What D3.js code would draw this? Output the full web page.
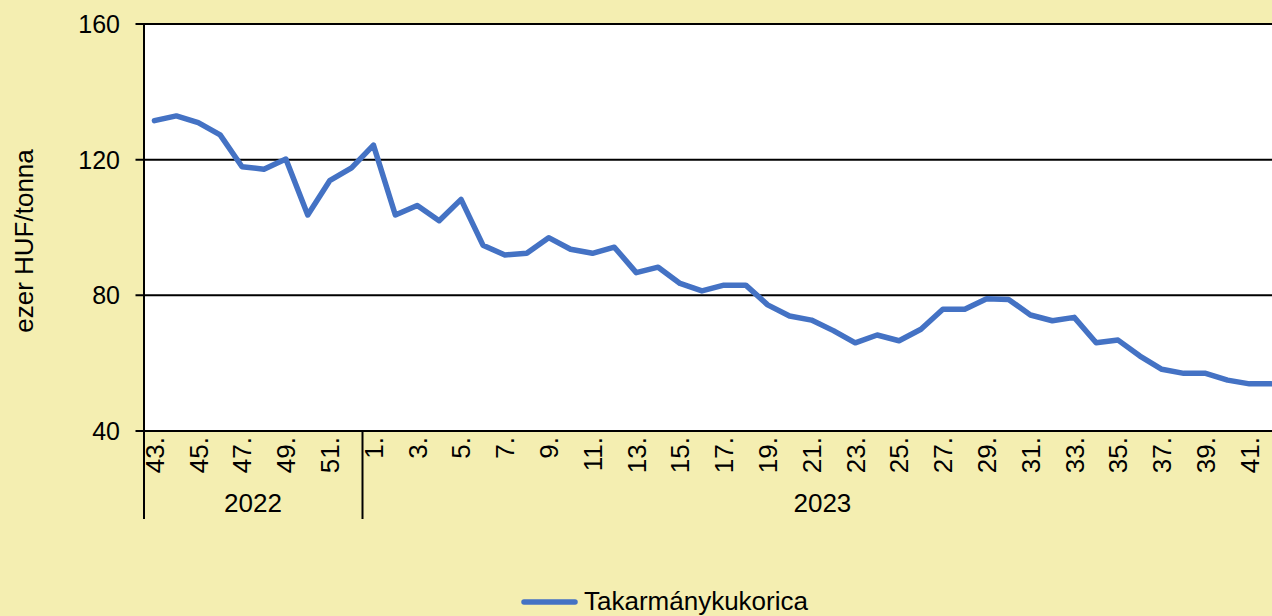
<!DOCTYPE html>
<html><head><meta charset="utf-8">
<script src="https://cdn.jsdelivr.net/npm/d3@7"></script>
<style>html,body{margin:0;padding:0;background:#F4EEB1;}svg{display:block;font-family:"Liberation Sans",Arial,sans-serif;}</style>
</head><body>
<svg id="c" width="1272" height="616"></svg>
<script>
const weeks2022 = ["43.","44.","45.","46.","47.","48.","49.","50.","51.","52."];
const weeks2023 = ["1.","2.","3.","4.","5.","6.","7.","8.","9.","10.","11.","12.","13.","14.","15.","16.","17.","18.","19.","20.","21.","22.","23.","24.","25.","26.","27.","28.","29.","30.","31.","32.","33.","34.","35.","36.","37.","38.","39.","40.","41.","42."];
const years = ["2022","2023"];
const values = [131.5,132.9,130.9,127.3,117.9,117.2,120.2,103.7,113.8,117.6,
  124.3,103.7,106.5,102.0,108.3,94.8,91.9,92.4,97.0,93.6,92.4,94.2,86.7,88.3,83.5,81.3,83.0,83.0,77.2,73.9,72.7,69.6,66.0,68.3,66.6,70.0,75.9,75.9,79.0,78.8,74.2,72.5,73.5,66.0,66.8,62.1,58.2,57.0,57.0,55.0,53.9,53.9];
const yTicks = [40,80,120,160];
const seriesName = "Takarmánykukorica";
const yTitle = "ezer HUF/tonna";

(function(){
const cats = weeks2022.map(w=>({key:"2022-"+w,label:w,year:"2022"}))
  .concat(weeks2023.map(w=>({key:"2023-"+w,label:w,year:"2023"})));

const svg = d3.select("#c");
const W = 1272, H = 616;
const pL = 143.5, pT = 24, pB = 431;
const band = 21.9;
const pR = pL + cats.length*band;

svg.append("rect").attr("width",W).attr("height",H).attr("fill","#F4EEB1");

const x = d3.scaleBand().domain(cats.map(c=>c.key)).range([pL,pR]).paddingInner(0).paddingOuter(0);
const y = d3.scaleLinear().domain([40,160]).range([pB,pT]);

svg.append("rect").attr("x",pL).attr("y",pT).attr("width",pR-pL).attr("height",pB-pT).attr("fill","#fff");

svg.append("g").selectAll("line").data(yTicks).join("line")
  .attr("x1",pL-8).attr("x2",pR).attr("y1",d=>y(d)).attr("y2",d=>y(d))
  .attr("stroke","#000").attr("stroke-width",2);

svg.append("g").selectAll("text").data(yTicks).join("text")
  .attr("x",120).attr("y",d=>y(d)).attr("dy","0.36em").attr("text-anchor","end")
  .attr("font-size",25).attr("fill","#000").text(d=>d);

svg.append("text").attr("transform","translate(33,241) rotate(-90)").attr("text-anchor","middle")
  .attr("font-size",26).attr("fill","#000").text(yTitle);

svg.append("line").attr("x1",pL+0.5).attr("x2",pL+0.5).attr("y1",pT).attr("y2",519)
  .attr("stroke","#000").attr("stroke-width",2);

const sepX = x("2023-1.");
svg.append("line").attr("x1",sepX).attr("x2",sepX).attr("y1",pB).attr("y2",519)
  .attr("stroke","#000").attr("stroke-width",2);

svg.append("g").selectAll("text").data(cats.filter((c,i)=>i%2===0)).join("text")
  .attr("transform",d=>`translate(${x(d.key)+band/2},437) rotate(-90)`)
  .attr("text-anchor","end").attr("dy","0.36em").attr("font-size",26).attr("fill","#000")
  .text(d=>d.label);

years.forEach(yr=>{
  const cs = cats.filter(c=>c.year===yr);
  const x0 = x(cs[0].key), x1 = x(cs[cs.length-1].key)+band;
  svg.append("text").attr("x",(x0+x1)/2).attr("y",512).attr("text-anchor","middle")
    .attr("font-size",26).attr("fill","#000").text(yr);
});

const line = d3.line().x((d,i)=>x(cats[i].key)+band/2).y(d=>y(d));
svg.append("path").datum(values).attr("d",line).attr("fill","none")
  .attr("stroke","#4472C4").attr("stroke-width",5.5).attr("stroke-linejoin","round").attr("stroke-linecap","round");

svg.append("line").attr("x1",524).attr("x2",575).attr("y1",602).attr("y2",602)
  .attr("stroke","#4472C4").attr("stroke-width",5.5).attr("stroke-linecap","round");
svg.append("text").attr("x",584).attr("y",610).attr("font-size",26).attr("fill","#000").text(seriesName);
})();
</script>
</body></html>
